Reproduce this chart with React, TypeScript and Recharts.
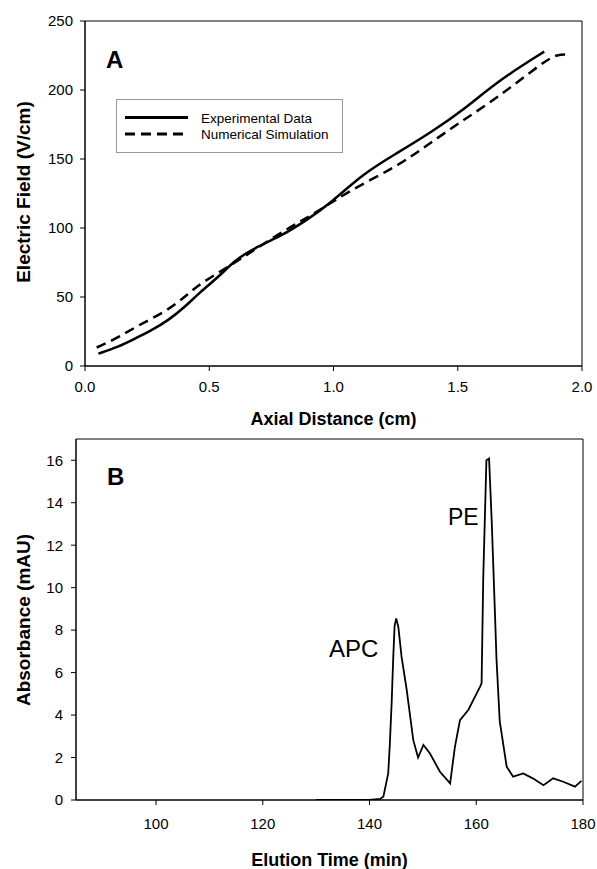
import React from 'react';
import { LineChart, Line, XAxis, YAxis, ReferenceLine, Legend } from 'recharts';

const FONT = '"Liberation Sans", Arial, Helvetica, sans-serif';

// ---------- Panel A: Electric field vs axial distance ----------
const expDistance = [0.054, 0.134, 0.202, 0.269, 0.336, 0.403, 0.457, 0.538, 0.605, 0.679, 0.786, 0.894, 0.988, 1.122, 1.257, 1.39, 1.525, 1.66, 1.848];
const expField = [9, 13.8, 19.9, 25.9, 33.2, 42.9, 52.6, 64.7, 76.8, 85.3, 93.8, 105.9, 118, 139.8, 154.4, 169, 185.8, 206.4, 227.8];

const simDistance = [0.047, 0.134, 0.215, 0.323, 0.403, 0.464, 0.61, 0.68, 0.813, 0.92, 1.069, 1.257, 1.39, 1.525, 1.66, 1.848, 1.902, 1.94];
const simField = [13.4, 20.6, 29.6, 39.2, 50.2, 59.9, 75.6, 84, 99.5, 110, 127.7, 144.6, 161.6, 178.6, 194.3, 220.9, 225.8, 225.8];

const xTicksA = [0, 0.5, 1.0, 1.5, 2.0];
const yTicksA = [0, 50, 100, 150, 200, 250];

// ---------- Panel B: Absorbance vs elution time ----------
const elutionTime = [130, 140, 142, 142.6, 143.5, 143.8, 144.15, 144.45, 144.7, 145.0, 145.4, 146.0, 146.96, 148.2, 149.1, 150.1, 151.3, 153.2, 155.1, 156.0, 156.95, 158.5, 160.7, 161.0, 161.3, 161.9, 162.4, 162.9, 163.5, 163.8, 164.4, 165.7, 166.9, 168.8, 170.6, 172.6, 174.4, 176.3, 178.5, 179.7];
const absorbance = [0, 0, 0.05, 0.16, 1.25, 2.6, 4.6, 6.75, 8.2, 8.55, 8.15, 6.75, 5.2, 2.82, 2.0, 2.59, 2.2, 1.33, 0.78, 2.5, 3.76, 4.24, 5.33, 5.5, 10.35, 16.0, 16.08, 13.1, 8.8, 6.6, 3.7, 1.57, 1.1, 1.25, 1.02, 0.7, 1.02, 0.86, 0.63, 0.9];

const xTicksB = [100, 120, 140, 160, 180];
const yTicksB = [0, 2, 4, 6, 8, 10, 12, 14, 16];

const expData = expDistance.map((x, i) => ({ x, y: expField[i] }));
const simData = simDistance.map((x, i) => ({ x, y: simField[i] }));
const chromData = elutionTime.map((x, i) => ({ x, y: absorbance[i] }));

const tickStyle = { fill: '#000', fontSize: 15, fontFamily: FONT };
const axisLine = { stroke: '#000', strokeWidth: 1.5 };
const tickLine = { stroke: '#000', strokeWidth: 1 };

const LegendA = () => (
  <div style={{ width: 227, height: 54, boxSizing: 'border-box', border: '1.5px solid #999', background: '#fff' }}>
    <svg width={224} height={51} style={{ display: 'block' }}>
      <line x1={8} x2={71} y1={17.5} y2={17.5} stroke="#000" strokeWidth={2.8} />
      <line x1={8} x2={71} y1={34} y2={34} stroke="#000" strokeWidth={2.8} strokeDasharray="10 6" />
      <text x={84} y={22.5} fontSize={13.5} fontFamily={FONT} fill="#000">Experimental Data</text>
      <text x={84} y={39} fontSize={13.5} fontFamily={FONT} fill="#000">Numerical Simulation</text>
    </svg>
  </div>
);

export default function App() {
  return (
    <div style={{ position: 'absolute', left: 0, top: 0, width: 597, height: 869, background: '#fff', fontFamily: FONT }}>
      <div style={{ position: 'absolute', left: 0, top: 0 }}>
        <LineChart width={597} height={432} margin={{ top: 21, right: 15, left: 25, bottom: 0 }}>
          <XAxis
            type="number"
            dataKey="x"
            domain={[0, 2]}
            ticks={xTicksA}
            tickFormatter={(v: number) => v.toFixed(1)}
            height={66}
            tickSize={5}
            tickMargin={10}
            axisLine={axisLine}
            tickLine={tickLine}
            tick={tickStyle}
            allowDataOverflow
            label={{
              content: () => (
                <text x={333.5} y={425} textAnchor="middle" fontSize={18} fontWeight="bold" fontFamily={FONT} fill="#000">
                  Axial Distance (cm)
                </text>
              ),
            }}
          />
          <YAxis
            type="number"
            domain={[0, 250]}
            ticks={yTicksA}
            width={60}
            tickSize={5}
            tickMargin={7}
            axisLine={axisLine}
            tickLine={tickLine}
            tick={tickStyle}
            allowDataOverflow
            label={{
              content: () => (
                <text x={23} y={192} transform="rotate(-90 23 192)" textAnchor="middle" dominantBaseline="central" fontSize={19} fontWeight="bold" fontFamily={FONT} fill="#000">
                  Electric Field (V/cm)
                </text>
              ),
            }}
          />
          <ReferenceLine y={250} stroke="#000" strokeWidth={1} />
          <ReferenceLine x={2} stroke="#000" strokeWidth={1} />
          <Legend
            layout="horizontal"
            verticalAlign="middle"
            align="center"
            wrapperStyle={{ position: 'absolute', left: 116, top: 99, width: 227, height: 54, margin: 0, padding: 0 }}
            content={() => <LegendA />}
          />
          <Line
            data={expData}
            dataKey="y"
            name="Experimental Data"
            type="basis"
            stroke="#000"
            strokeWidth={2.5}
            dot={false}
            isAnimationActive={false}
          />
          <Line
            data={simData}
            dataKey="y"
            name="Numerical Simulation"
            type="basis"
            stroke="#000"
            strokeWidth={2.5}
            strokeDasharray="10 6"
            dot={false}
            isAnimationActive={false}
          />
        </LineChart>
      </div>

      <div style={{ position: 'absolute', left: 0, top: 432 }}>
        <LineChart width={597} height={437} margin={{ top: 7, right: 14, left: 26, bottom: 0 }}>
          <XAxis
            type="number"
            dataKey="x"
            domain={[85, 180]}
            ticks={xTicksB}
            height={69}
            tickSize={5}
            tickMargin={13}
            axisLine={axisLine}
            tickLine={tickLine}
            tick={tickStyle}
            allowDataOverflow
            label={{
              content: () => (
                <text x={329.5} y={434} textAnchor="middle" fontSize={18} fontWeight="bold" fontFamily={FONT} fill="#000">
                  Elution Time (min)
                </text>
              ),
            }}
          />
          <YAxis
            type="number"
            domain={[0, 17]}
            ticks={yTicksB}
            width={50}
            tickSize={5}
            tickMargin={8}
            axisLine={axisLine}
            tickLine={tickLine}
            tick={tickStyle}
            allowDataOverflow
            label={{
              content: () => (
                <text x={23} y={188} transform="rotate(-90 23 188)" textAnchor="middle" dominantBaseline="central" fontSize={19} fontWeight="bold" fontFamily={FONT} fill="#000">
                  Absorbance (mAU)
                </text>
              ),
            }}
          />
          <ReferenceLine y={17} stroke="#000" strokeWidth={1} />
          <ReferenceLine x={180} stroke="#000" strokeWidth={1} />
          <Line
            data={chromData}
            dataKey="y"
            type="linear"
            stroke="#000"
            strokeWidth={1.8}
            dot={false}
            isAnimationActive={false}
          />
        </LineChart>
      </div>

      <svg width={597} height={869} style={{ position: 'absolute', left: 0, top: 0, pointerEvents: 'none' }}>
        <text x={106} y={68} fontSize={24} fontWeight="bold" fontFamily={FONT} fill="#000">A</text>
        <text x={107} y={485} fontSize={24} fontWeight="bold" fontFamily={FONT} fill="#000">B</text>
        <text x={329} y={657} fontSize={24} fontFamily={FONT} fill="#000">APC</text>
        <text x={448} y={525} fontSize={23} fontFamily={FONT} fill="#000">PE</text>
      </svg>
    </div>
  );
}
